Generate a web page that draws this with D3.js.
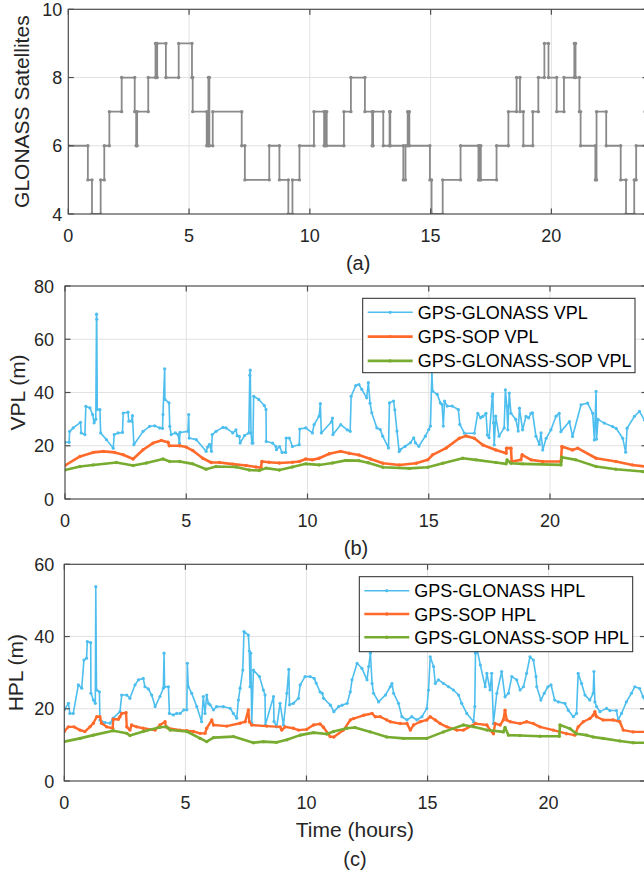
<!DOCTYPE html>
<html>
<head>
<meta charset="utf-8">
<script src="https://cdn.jsdelivr.net/npm/d3@7"></script>
<style>
  body { margin: 0; background: #fff; }
  svg { display: block; font-family: 'Liberation Sans', Arial, Helvetica, sans-serif; }
</style>
</head>
<body>
<svg id="chart" width="644" height="875"></svg>
<script>
/* global d3 */
// x ticks shared by all three panels (hours)
const hourTicks = [0, 5, 10, 15, 20]
const satTicks = [4, 6, 8, 10]
const vplTicks = [0, 20, 40, 60, 80]
const hplTicks = [0, 20, 40, 60]

// (a) number of GLONASS satellites, [start hour, count] steps
const glonassSats = [
  [0, 6], [0.81, 5], [0.98, 4], [1.34, 5], [1.49, 6], [1.70, 7], [2.21, 8], [2.75, 7], [2.81, 6], [2.85, 7],
  [3.31, 8], [3.61, 9], [3.64, 8], [3.68, 9], [4.04, 8], [4.57, 9], [5.12, 8], [5.15, 7], [5.73, 6], [5.80, 8],
  [5.84, 6], [5.98, 7], [7.18, 6], [7.31, 5], [8.32, 6], [8.74, 5], [9.11, 4], [9.28, 5], [9.57, 6], [10.17, 7],
  [10.59, 6], [10.63, 7], [10.70, 6], [11.41, 7], [11.70, 8], [12.28, 7], [12.58, 6], [12.62, 7], [13.04, 6],
  [13.30, 7], [13.33, 6], [13.87, 5], [13.96, 6], [14.05, 7], [14.12, 6], [14.97, 5], [15.04, 4], [15.50, 5],
  [16.24, 6], [16.98, 5], [17.02, 6], [17.08, 5], [17.73, 6], [18.22, 7], [18.56, 8], [18.70, 7], [18.84, 6],
  [19.23, 7], [19.46, 8], [19.71, 9], [19.88, 8], [20.22, 7], [20.52, 8], [20.95, 9], [21.00, 8], [21.16, 7],
  [21.21, 6], [21.82, 5], [21.87, 7], [22.27, 6], [22.87, 5], [23.09, 4], [23.43, 5], [23.51, 6], [23.88, 7], [24, 7]
]

// (b) vertical protection levels, [hour, metres]
const vplGpsGlonass = [
  [0, 21.3], [0.17, 21.3], [0.19, 25.4], [0.34, 26.7], [0.64, 28.8], [0.67, 24.8], [0.82, 24.2], [0.86, 34.8],
  [1.03, 34.2], [1.14, 31.7], [1.2, 28.6], [1.27, 30], [1.30, 69.4], [1.31, 67.5], [1.33, 33.6], [1.44, 33.6],
  [1.47, 24.8], [1.71, 22.3], [1.99, 19.1], [2.03, 24.2], [2.19, 24.8], [2.37, 25.0], [2.40, 32.3], [2.60, 32.6],
  [2.63, 29.2], [2.74, 29.2], [2.78, 31.3], [2.84, 20.4], [3.22, 25.4], [3.49, 27.3], [3.70, 27.5], [3.90, 26.7],
  [4.02, 26.5], [4.04, 31.7], [4.11, 48.9], [4.12, 37.4], [4.29, 36.1], [4.32, 27.3], [4.38, 24.2], [4.55, 24.8],
  [4.66, 24.2], [4.72, 21.0], [4.74, 25.0], [5.07, 25.4], [5.10, 31.7], [5.12, 22.9], [5.41, 22.3], [5.82, 17.9],
  [5.88, 19.5], [5.96, 20.5], [6.04, 17.9], [6.07, 24.2], [6.23, 25.4], [6.51, 26.9], [6.64, 26.7], [6.92, 24.8],
  [7.05, 26], [7.10, 23.8], [7.19, 23.5], [7.22, 21.0], [7.40, 23.8], [7.58, 24.8], [7.62, 46.5], [7.64, 48.4],
  [7.67, 24.8], [7.71, 21.0], [7.75, 21.0], [7.78, 38.6], [7.99, 37.4], [8.22, 35.1], [8.29, 33.6], [8.30, 21.6],
  [8.56, 21.0], [8.70, 19.7], [8.72, 18.5], [8.85, 19.7], [8.95, 17.5], [9.10, 17.5], [9.12, 22.9], [9.25, 22.9],
  [9.38, 19.7], [9.66, 20.4], [9.68, 26.3], [9.93, 26.7], [10.2, 24.8], [10.27, 27.9], [10.48, 31.1], [10.53, 35.8],
  [10.57, 24.8], [10.99, 29], [11.03, 30.4], [11.05, 24.2], [11.37, 27.9], [11.64, 26.0], [11.76, 25.4], [11.80, 38.6],
  [11.99, 42.6], [12.12, 43.0], [12.24, 41.2], [12.44, 38.0], [12.51, 43.7], [12.58, 36], [12.65, 32.4], [12.86, 26.7],
  [13.0, 26.1], [13.1, 23.6], [13.34, 19.2], [13.38, 36.1], [13.55, 36.8], [13.60, 33.5], [13.69, 25.5], [13.78, 17.8],
  [13.83, 18.6], [14.03, 19.8], [14.24, 21.1], [14.38, 23.0], [14.45, 21.1], [14.59, 19.8], [14.86, 23.6], [15.0, 26.1],
  [15.07, 27.4], [15.13, 48], [15.16, 40.5], [15.35, 39.3], [15.48, 36.1], [15.55, 35.5], [15.60, 27.4], [15.65, 36.8],
  [15.76, 34.9], [15.97, 34.9], [16.22, 33.6], [16.28, 28], [16.47, 24.7], [16.88, 24.7], [17.02, 32.2], [17.14, 30.5],
  [17.23, 31], [17.36, 32.2], [17.42, 24], [17.49, 23], [17.62, 38.6], [17.64, 39.5], [17.67, 28.6], [17.70, 20.3],
  [17.76, 31.1], [17.9, 23.6], [18.11, 26.7], [18.16, 41], [18.22, 34.9], [18.26, 26], [18.32, 39.8], [18.39, 32.2],
  [18.59, 29.9], [18.69, 25.5], [18.74, 34.1], [18.87, 26], [19.01, 31], [19.12, 30.5], [19.22, 32.2], [19.28, 32.4],
  [19.42, 23.6], [19.56, 20.5], [19.63, 24.8], [19.70, 18.4], [19.84, 22.8], [20.04, 26], [20.25, 31.1], [20.38, 32.2],
  [20.45, 25.3], [20.8, 29.1], [20.93, 23.5], [21.28, 35.4], [21.55, 36], [21.76, 32.2], [21.83, 22.2], [21.90, 40.4],
  [21.92, 22.5], [21.98, 29.9], [22.24, 28.5], [22.58, 27.2], [22.73, 26.5], [23.0, 22.8], [23.12, 17.6], [23.18, 26.6],
  [23.48, 31], [23.69, 32.9], [23.89, 29.7], [24, 29]
]
const vplGpsSop = [
  [0, 12.6], [0.62, 16], [1.16, 17.5], [1.58, 17.9], [2.05, 17.5], [2.4, 16.6], [2.81, 15], [3.22, 18.5], [3.63, 21],
  [3.97, 22], [4.25, 21.3], [4.30, 20], [4.73, 20], [5.0, 19.5], [5.27, 18.2], [5.68, 15.3], [6.03, 13.7], [6.37, 13.7],
  [6.92, 13.1], [7.47, 12.6], [7.88, 12], [8.08, 11.8], [8.12, 14.1], [8.42, 13.8], [8.84, 13.5], [9.38, 13.8],
  [9.66, 14.1], [9.93, 15], [10.2, 14.7], [10.48, 15.3], [10.9, 17], [11.37, 17.9], [11.71, 17.2], [12.12, 16.5],
  [12.6, 15], [13.11, 13.4], [13.79, 12.8], [14.48, 13.4], [14.96, 14.7], [15.16, 16.6], [15.71, 19.1], [16.26, 22.8],
  [16.54, 23.7], [16.88, 22.8], [17.23, 20.3], [17.77, 18.4], [18.19, 17.2], [18.21, 19.1], [18.39, 19.1], [18.42, 14.1],
  [18.8, 14.7], [18.85, 16.6], [19.22, 14.7], [19.7, 14.1], [20.45, 14.1], [20.49, 19.7], [20.93, 18.4], [21.14, 19.1],
  [21.9, 15.3], [22.72, 14.1], [23.4, 12.8], [24, 12.1]
]
const vplGpsGlonassSop = [
  [0, 10.9], [0.62, 12.2], [1.16, 12.8], [2.12, 13.7], [2.81, 12.6], [3.36, 13.5], [4.04, 15], [4.32, 14.1], [4.73, 14.1],
  [5.27, 13.2], [5.82, 11.2], [6.23, 12.2], [7.05, 12], [7.6, 10.9], [8.01, 10.7], [8.29, 11.6], [8.84, 10.9], [9.38, 12],
  [9.93, 13.2], [10.48, 12.8], [11.03, 13.5], [11.58, 14.5], [12.12, 14.4], [12.5, 13.6], [13.11, 11.9], [14.2, 11.5],
  [14.96, 11.9], [15.58, 13.4], [16.4, 15.3], [16.95, 14.7], [17.77, 13.7], [18.19, 13.2], [18.23, 14.7], [18.39, 13.4],
  [18.87, 13.2], [20.45, 12.8], [20.49, 15.7], [21.07, 14.7], [21.9, 12.2], [22.72, 11.2], [23.82, 10.3], [24, 10.3]
]

// (c) horizontal protection levels, [hour, metres]
const hplGpsGlonass = [
  [0, 19.7], [0.17, 21.5], [0.23, 18.7], [0.37, 18.7], [0.58, 26.6], [0.72, 25.7], [0.81, 33.5], [0.92, 34], [0.95, 38.6],
  [1.09, 38.3], [1.10, 24.3], [1.2, 22.4], [1.28, 21.5], [1.30, 53.8], [1.33, 25.2], [1.45, 24.7], [1.47, 16.9],
  [1.68, 16.2], [1.89, 16], [2.02, 17.4], [2.3, 19.2], [2.37, 23.8], [2.58, 23.8], [2.71, 22.9], [2.92, 26.6], [3.06, 28],
  [3.26, 28.4], [3.33, 26.1], [3.47, 25.5], [3.61, 23.8], [3.75, 20.6], [3.95, 23.4], [4.09, 25.7], [4.12, 35.4],
  [4.14, 26.1], [4.3, 26.1], [4.34, 18.7], [4.5, 18.3], [4.64, 18.7], [4.78, 18.7], [4.94, 19.7], [5.06, 19.7],
  [5.08, 32.6], [5.12, 26.1], [5.26, 24.3], [5.47, 20.6], [5.67, 16.4], [5.74, 23.4], [5.81, 18.7], [5.88, 23.8],
  [5.95, 21.5], [6.02, 21.1], [6.16, 19.7], [6.29, 20.6], [6.57, 20.6], [6.85, 20.1], [6.98, 18.7], [7.12, 17.4],
  [7.19, 22.4], [7.26, 25.7], [7.37, 30.7], [7.42, 41.4], [7.6, 40.4], [7.64, 36], [7.67, 26.1], [7.70, 35.4], [7.72, 26],
  [7.74, 16], [7.81, 30.7], [8.06, 28.9], [8.22, 25.2], [8.29, 23.8], [8.30, 15.5], [8.64, 23.4], [8.66, 16.5],
  [8.77, 15], [8.91, 21.5], [9.05, 15.5], [9.19, 24.3], [9.27, 30.9], [9.3, 21.1], [9.46, 21.5], [9.67, 22.9],
  [9.74, 26.6], [9.94, 28.9], [10.15, 28.9], [10.32, 28.4], [10.4, 27.1], [10.56, 24.7], [10.65, 24.3], [10.71, 22.9],
  [10.99, 21], [11.13, 19.2], [11.33, 20.6], [11.47, 21], [11.68, 21.5], [11.81, 24.7], [11.88, 28], [12.09, 32.6],
  [12.29, 31.2], [12.5, 28], [12.57, 31.7], [12.64, 35.4], [12.71, 27], [12.77, 24.3], [12.98, 21.9], [13.26, 23.8],
  [13.46, 26.1], [13.53, 27], [13.6, 24.3], [13.8, 21.5], [13.94, 17.8], [14.15, 16.9], [14.35, 17.8], [14.56, 16.9],
  [14.77, 17.8], [14.97, 20.1], [15.04, 25.2], [15.11, 34.4], [15.25, 31.7], [15.32, 27], [15.45, 28], [15.66, 27],
  [15.87, 26.1], [16.07, 25.2], [16.28, 23.8], [16.41, 21.5], [16.62, 18.7], [16.9, 16.4], [16.95, 20.6], [16.98, 35.4],
  [17.05, 36.3], [17.18, 32.1], [17.38, 26.1], [17.45, 29.8], [17.58, 25.2], [17.65, 29.8], [17.72, 15.9], [17.86, 24.3],
  [18.06, 30.3], [18.2, 23.3], [18.34, 24.3], [18.48, 28.9], [18.68, 28], [18.82, 25.2], [18.96, 26.1], [19.09, 29.8],
  [19.23, 34.4], [19.37, 33.5], [19.48, 28.9], [19.51, 26.1], [19.68, 22.4], [19.82, 24.3], [19.97, 26.1], [20.1, 26.6],
  [20.25, 22.4], [20.4, 21.9], [20.67, 21.5], [20.81, 19.6], [21.02, 17.8], [21.15, 18.7], [21.22, 29.8], [21.36, 27],
  [21.5, 23.8], [21.7, 22.4], [21.84, 24.3], [21.87, 30.3], [21.91, 21.9], [21.98, 20.6], [22.12, 19.2], [22.39, 20.1],
  [22.53, 19.5], [22.8, 19.5], [22.87, 16.9], [23.01, 18.7], [23.21, 21.9], [23.42, 24.3], [23.56, 26.1], [23.76, 25.6],
  [23.9, 23.3], [24, 22]
]
const hplGpsSop = [
  [0, 13.7], [0.17, 15], [0.4, 15], [0.65, 14.1], [0.85, 13.7], [1.06, 15], [1.2, 16], [1.34, 17.8], [1.47, 17.8],
  [1.54, 16], [1.75, 15], [2.0, 14.6], [2.02, 17.1], [2.23, 17.1], [2.3, 17.8], [2.37, 18.7], [2.55, 18.9], [2.58, 15],
  [2.71, 14.1], [2.78, 15.5], [2.99, 15], [3.26, 14.6], [3.75, 14.1], [3.95, 15.5], [4.16, 16.4], [4.2, 15], [4.3, 14.6],
  [4.78, 14.1], [5.06, 13.9], [5.33, 13.7], [5.61, 13.2], [5.81, 13.2], [5.88, 14.6], [6.09, 16.9], [6.16, 15.5],
  [6.71, 15.2], [7.26, 16], [7.47, 16.4], [7.6, 19.7], [7.64, 16.4], [7.74, 15.5], [8.36, 15.2], [8.91, 15], [8.98, 14.1],
  [9.12, 15], [9.46, 14.6], [9.67, 14.1], [10.01, 14.3], [10.29, 15.5], [10.56, 15.8], [10.7, 14.9], [10.98, 12.3],
  [11.13, 12.2], [11.53, 14.1], [11.81, 16.9], [11.95, 17.3], [12.36, 18.2], [12.71, 18.7], [12.84, 17.8], [13.05, 17.8],
  [13.32, 16.9], [13.46, 16.4], [13.87, 15.9], [14.15, 15.9], [14.29, 14.1], [14.42, 15.5], [14.7, 16.4], [14.97, 16.9],
  [15.11, 17.8], [15.32, 16.9], [15.52, 15.9], [15.8, 15], [16.21, 14.1], [16.48, 14.1], [16.98, 15.9], [17.45, 15.5],
  [17.58, 14.1], [17.72, 13.1], [17.79, 15.9], [18.0, 15.5], [18.13, 16.9], [18.2, 19.6], [18.27, 16.9], [18.41, 16.4],
  [18.82, 15.9], [19.09, 16.4], [19.37, 15.9], [19.64, 15], [20.19, 14.1], [20.74, 13.1], [21.08, 12.7], [21.22, 15],
  [21.43, 16.4], [21.7, 17.3], [21.84, 18.2], [21.91, 19.2], [21.98, 17.8], [22.25, 16.9], [22.66, 16.9], [22.94, 16.4],
  [23.08, 14.1], [23.49, 13.6], [24, 13.6]
]
const hplGpsGlonassSop = [
  [0, 10.9], [0.65, 11.8], [1.2, 12.7], [2.02, 13.9], [2.58, 13.2], [2.71, 12.6], [3.26, 13.7], [3.95, 14.9], [4.23, 15],
  [4.37, 14.1], [5.06, 13.7], [5.61, 11.8], [5.88, 10.9], [6.16, 12], [6.98, 12.3], [7.81, 10.6], [8.22, 10.9],
  [8.77, 10.7], [9.19, 11.4], [9.74, 12.7], [10.29, 13.4], [10.84, 13], [11.12, 13.7], [11.67, 14.6], [12.0, 14.8],
  [12.64, 13.6], [13.32, 12.2], [14.01, 11.8], [14.97, 11.8], [15.66, 13.6], [16.48, 15.5], [16.9, 15], [17.45, 14.1],
  [18.13, 13.6], [18.2, 14.8], [18.34, 12.7], [18.82, 12.6], [19.64, 12.4], [20.44, 12.4], [20.47, 15.5], [20.88, 14.5],
  [21.15, 13.1], [21.57, 12.7], [21.84, 12.2], [22.25, 11.8], [22.94, 11.1], [23.49, 10.6], [24, 10.6]
]

const vplNames = ['GPS-GLONASS VPL', 'GPS-SOP VPL', 'GPS-GLONASS-SOP VPL']
const hplNames = ['GPS-GLONASS HPL', 'GPS-SOP HPL', 'GPS-GLONASS-SOP HPL']
const colors = ['#4dbeee', '#ff6a2b', '#77ac30']

const svg = d3.select('#chart')
const ink = '#262626'

function drawPanel (p) {
  const x = d3.scaleLinear().domain([0, 24]).range([p.left, p.right])
  const y = d3.scaleLinear().domain(p.yDomain).range([p.bottom, p.top])
  const g = svg.append('g')

  const clipId = 'clip-' + p.id
  g.append('clipPath').attr('id', clipId)
    .append('rect')
    .attr('x', p.left).attr('y', p.top)
    .attr('width', p.right - p.left).attr('height', p.bottom - p.top)

  // grid
  g.selectAll('.vg').data(hourTicks.filter(d => d > 0)).enter().append('line')
    .attr('x1', d => x(d)).attr('x2', d => x(d))
    .attr('y1', p.top).attr('y2', p.bottom)
    .attr('stroke', '#e2e2e2').attr('stroke-width', 1)
  g.selectAll('.hg').data(p.yTicks.slice(1, -1)).enter().append('line')
    .attr('x1', p.left).attr('x2', p.right)
    .attr('y1', d => y(d)).attr('y2', d => y(d))
    .attr('stroke', '#e2e2e2').attr('stroke-width', 1)

  // series
  const plot = g.append('g').attr('clip-path', `url(#${clipId})`)
  p.series.forEach(s => {
    const line = d3.line().x(d => x(d[0])).y(d => y(d[1]))
    if (s.step) line.curve(d3.curveStepAfter)
    plot.append('path')
      .datum(s.data)
      .attr('fill', 'none')
      .attr('stroke', s.color)
      .attr('stroke-width', s.width)
      .attr('stroke-linejoin', 'round')
      .attr('d', line)
    let marks = s.data
    if (s.step) {
      // markers at both ends of each level
      marks = []
      s.data.forEach((d, i) => {
        marks.push(d)
        if (i + 1 < s.data.length) marks.push([s.data[i + 1][0], d[1]])
      })
    }
    plot.selectAll(null).data(marks).enter().append('circle')
      .attr('cx', d => x(d[0])).attr('cy', d => y(d[1]))
      .attr('r', s.r).attr('fill', s.color)
  })

  // box with inward ticks
  const axisG = g.append('g').attr('stroke', '#4d4d4d').attr('stroke-width', 1.2).attr('fill', 'none')
  axisG.append('rect')
    .attr('x', p.left).attr('y', p.top)
    .attr('width', p.right - p.left).attr('height', p.bottom - p.top)
  hourTicks.forEach(t => {
    axisG.append('line').attr('x1', x(t)).attr('x2', x(t)).attr('y1', p.bottom).attr('y2', p.bottom - 5.5)
    axisG.append('line').attr('x1', x(t)).attr('x2', x(t)).attr('y1', p.top).attr('y2', p.top + 5.5)
  })
  p.yTicks.forEach(t => {
    axisG.append('line').attr('x1', p.left).attr('x2', p.left + 5.5).attr('y1', y(t)).attr('y2', y(t))
    axisG.append('line').attr('x1', p.right).attr('x2', p.right - 5.5).attr('y1', y(t)).attr('y2', y(t))
  })

  // tick labels
  g.selectAll('.xt').data(hourTicks).enter().append('text')
    .attr('x', d => x(d)).attr('y', p.bottom + 28)
    .attr('text-anchor', 'middle').attr('font-size', 18).attr('fill', ink)
    .text(d => d)
  g.selectAll('.yt').data(p.yTicks).enter().append('text')
    .attr('x', p.left - p.tickGap).attr('y', d => y(d) + 6.5)
    .attr('text-anchor', 'end').attr('font-size', 18).attr('fill', ink)
    .text(d => d)

  // y label
  g.append('text')
    .attr('transform', `translate(${p.labelX},${(p.top + p.bottom) / 2}) rotate(-90)`)
    .attr('text-anchor', 'middle').attr('font-size', 21).attr('fill', ink)
    .text(p.yLabel)

  if (p.xLabel) {
    g.append('text')
      .attr('x', (p.left + p.right) / 2).attr('y', p.bottom + 56)
      .attr('text-anchor', 'middle').attr('font-size', 21).attr('fill', ink)
      .text(p.xLabel)
  }
  g.append('text')
    .attr('x', (p.left + p.right) / 2).attr('y', p.bottom + p.captionDy)
    .attr('text-anchor', 'middle').attr('font-size', 20).attr('fill', ink)
    .text(p.caption)

  // legend
  if (p.legend) {
    const L = p.legend
    const lg = g.append('g')
    lg.append('rect')
      .attr('x', L.x).attr('y', L.y).attr('width', L.w).attr('height', L.h)
      .attr('fill', '#fff').attr('stroke', ink).attr('stroke-width', 1)
    p.series.forEach((s, i) => {
      const ry = L.y + 14 + i * L.step
      lg.append('line')
        .attr('x1', L.x + 5).attr('x2', L.x + 50).attr('y1', ry).attr('y2', ry)
        .attr('stroke', s.color).attr('stroke-width', s.width)
      lg.append('circle').attr('cx', L.x + 27.5).attr('cy', ry).attr('r', s.r).attr('fill', s.color)
      lg.append('text')
        .attr('x', L.x + 55).attr('y', ry + 6.5)
        .attr('font-size', 18).attr('fill', '#000')
        .text(p.names[i])
    })
  }
}

drawPanel({
  id: 'a', left: 68.3, right: 648, top: 9.3, bottom: 214,
  yDomain: [4, 10], yTicks: satTicks, tickGap: 6,
  yLabel: 'GLONASS Satellites', labelX: 28.5, caption: '(a)', captionDy: 56,
  series: [{ data: glonassSats, color: '#8a8a8a', width: 1.8, r: 1.7, step: true }]
})

drawPanel({
  id: 'b', left: 65, right: 647, top: 286, bottom: 499,
  yDomain: [0, 80], yTicks: vplTicks, tickGap: 11,
  yLabel: 'VPL (m)', labelX: 25, caption: '(b)', captionDy: 56,
  names: vplNames,
  legend: { x: 362.7, y: 298.3, w: 272.3, h: 74.4, step: 24.3 },
  series: [
    { data: vplGpsGlonass, color: colors[0], width: 1.6, r: 1.6 },
    { data: vplGpsSop, color: colors[1], width: 2.6, r: 1.7 },
    { data: vplGpsGlonassSop, color: colors[2], width: 2.6, r: 1.7 }
  ]
})

drawPanel({
  id: 'c', left: 64.3, right: 645.5, top: 564.3, bottom: 781,
  yDomain: [0, 60], yTicks: hplTicks, tickGap: 10,
  yLabel: 'HPL (m)', labelX: 23, xLabel: 'Time (hours)', caption: '(c)', captionDy: 85,
  names: hplNames,
  legend: { x: 359.3, y: 576.7, w: 273.4, h: 75, step: 23.3 },
  series: [
    { data: hplGpsGlonass, color: colors[0], width: 1.6, r: 1.6 },
    { data: hplGpsSop, color: colors[1], width: 2.4, r: 1.7 },
    { data: hplGpsGlonassSop, color: colors[2], width: 2.6, r: 1.7 }
  ]
})
</script>
</body>
</html>
